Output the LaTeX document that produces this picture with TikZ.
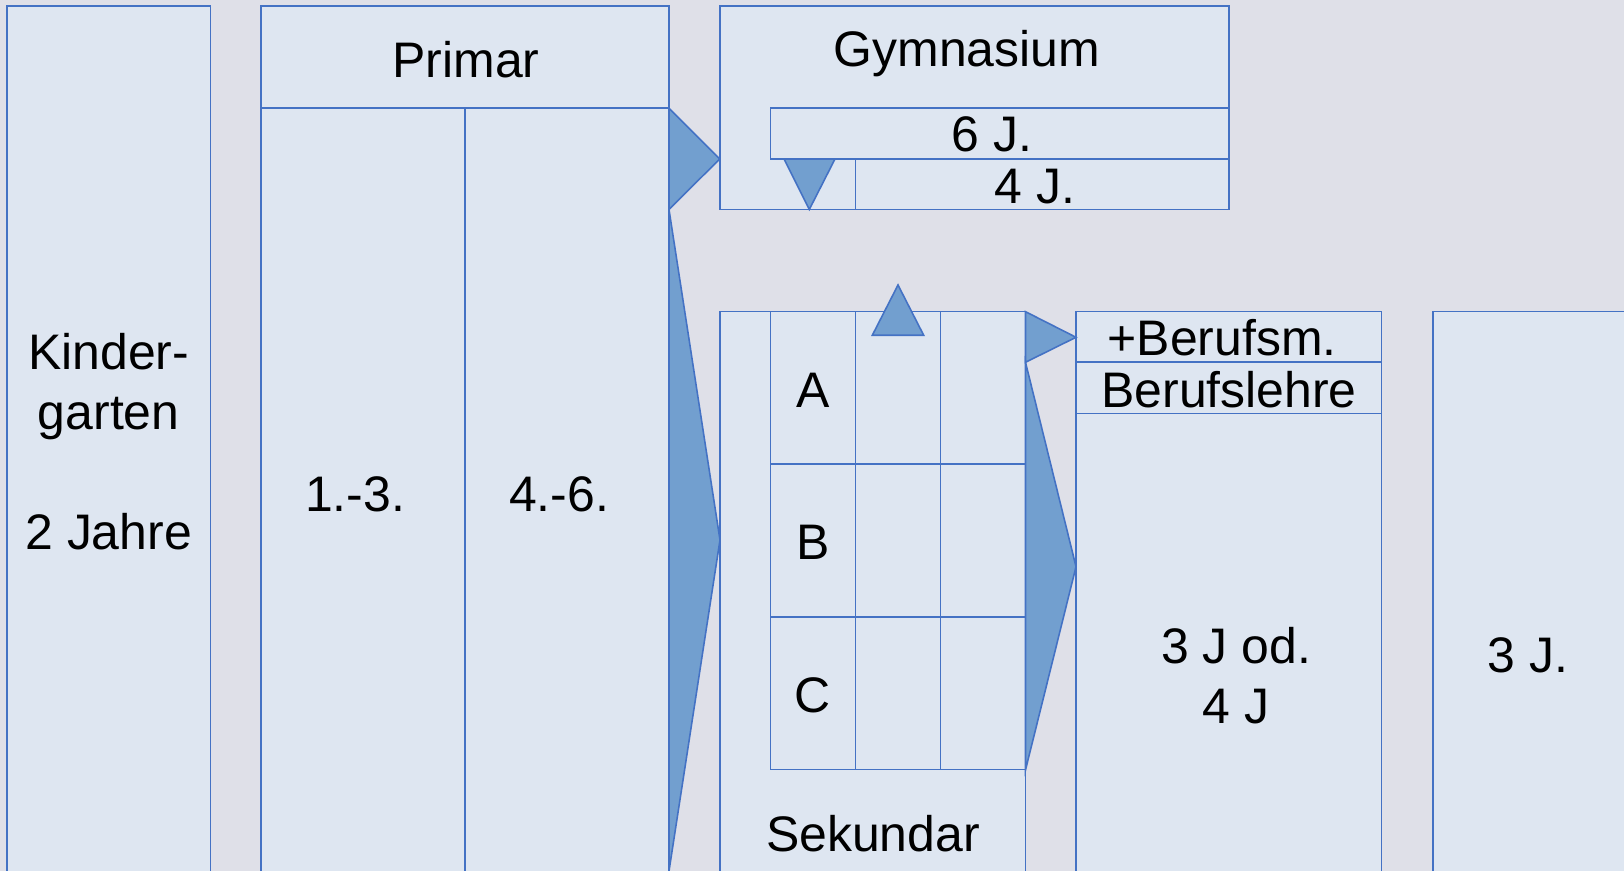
\documentclass[tikz,border=0pt]{standalone}
\usepackage{fontspec}
\setmainfont{Liberation Sans}
\definecolor{bgcol}{RGB}{223,224,232}
\definecolor{boxfill}{RGB}{222,230,241}
\definecolor{lineblue}{RGB}{68,114,196}
\definecolor{arrowfill}{RGB}{114,159,207}
\begin{document}
\begin{tikzpicture}[x=0.01cm,y=-0.01cm,
  box/.style={draw=lineblue, fill=boxfill, line width=0.45pt},
  arr/.style={draw=lineblue, fill=arrowfill, line width=0.45pt, line join=miter},
  lbl/.style={font=\fontsize{14.2}{17.07}\selectfont, inner sep=0pt, anchor=base, align=center}]
\useasboundingbox (0,0) rectangle (1624,871);
\clip (0,0) rectangle (1624,871);
\fill[bgcol] (0,0) rectangle (1624,871);
% Kindergarten
\path[box] (7,6.3) rectangle (210.5,890);
% Primar
\path[box] (261,6.3) rectangle (669,108.3);
\path[box] (261,108.3) rectangle (465,890);
\path[box] (465,108.3) rectangle (669,890);
% Gymnasium
\path[box] (719.7,6.3) rectangle (1229,209.5);
\path[box] (770.3,108.3) rectangle (1229,159);
\path[box] (855.3,159) rectangle (1229,209.5);
% Sekundar
\path[box] (720,311.7) rectangle (1025.5,890);
\foreach \xa/\xb in {770.5/855.5, 855.5/940.4, 940.4/1025.5}
  \foreach \ya/\yb in {311.7/464, 464/617.3, 617.3/769.5}
    \path[box] (\xa,\ya) rectangle (\xb,\yb);
% Berufslehre
\path[box] (1076,311.7) rectangle (1381.6,890);
\draw[lineblue, line width=0.45pt] (1076,362.3) -- (1381.6,362.3);
\draw[lineblue, line width=0.45pt] (1076,413.7) -- (1381.6,413.7);
% last column
\path[box] (1432.7,311.7) rectangle (1640,890);
% arrows
\path[arr] (669,108.3) -- (719.7,159) -- (669,209.5) -- cycle;
\path[arr] (669,209.5) -- (720,540) -- (669,871) -- cycle;
\path[arr] (784,159) -- (835,159) -- (809.3,209.5) -- cycle;
\path[arr] (872.3,335.3) -- (923.7,335.3) -- (898,285) -- cycle;
\path[arr] (1025.5,311.7) -- (1076,337.3) -- (1025.5,362.3) -- cycle;
\path[arr] (1025.5,362.3) -- (1076,566.7) -- (1025.5,770) -- cycle;
% labels
\node[lbl] (kg) at (108.7,550) {Kinder-\\garten\\[17.07pt]2 Jahre};
\node[lbl] (primar) at (466,77.7) {Primar};
\node[lbl] (gym) at (967,67) {Gymnasium};
\node[lbl] (g6) at (992,152) {6 J.};
\node[lbl] (g4) at (1035,204) {4 J.};
\node[lbl] (p13) at (355,511.6) {1.-3.};
\node[lbl] (p46) at (559,511.6) {4.-6.};
\node[lbl] (sa) at (813,408) {A};
\node[lbl] (sb) at (813,560) {B};
\node[lbl] (sc) at (813,712.6) {C};
\node[lbl] (sek) at (873,852) {Sekundar};
\node[lbl] (bm) at (1222,356) {+Berufsm.};
\node[lbl] (bl) at (1229,408) {Berufslehre};
\node[lbl] (bj) at (1236,724) {3 J od.\\4 J};
\node[lbl] (last) at (1528,673) {3 J.};
\end{tikzpicture}
\end{document}
